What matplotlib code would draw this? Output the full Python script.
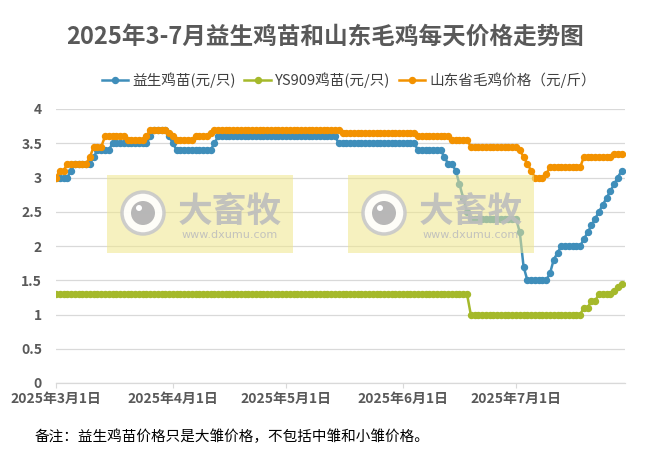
import numpy as np
import pandas as pd
import matplotlib
matplotlib.use("Agg")
import matplotlib.pyplot as plt
import matplotlib.dates as mdates
from matplotlib.patches import Rectangle, Circle
from matplotlib.ticker import FuncFormatter

plt.rcParams['font.family'] = ['Noto Sans CJK SC', 'DejaVu Sans']

# daily prices, 2025-03-01 .. 2025-07-29
start = "2025-03-01"
yisheng = [  # 益生鸡苗(元/只)
    # Mar
    3.0, 3.0, 3.0, 3.0, 3.1, 3.2, 3.2, 3.2, 3.2, 3.2, 3.3, 3.4, 3.4, 3.4, 3.4, 3.5,
    3.5, 3.5, 3.5, 3.5, 3.5, 3.5, 3.5, 3.5, 3.5, 3.6, 3.7, 3.7, 3.7, 3.7, 3.6,
    # Apr
    3.5, 3.4, 3.4, 3.4, 3.4, 3.4, 3.4, 3.4, 3.4, 3.4, 3.4, 3.5, 3.6, 3.6, 3.6,
    3.6, 3.6, 3.6, 3.6, 3.6, 3.6, 3.6, 3.6, 3.6, 3.6, 3.6, 3.6, 3.6, 3.6, 3.6,
    # May
    3.6, 3.6, 3.6, 3.6, 3.6, 3.6, 3.6, 3.6, 3.6, 3.6, 3.6, 3.6, 3.6, 3.6, 3.5, 3.5,
    3.5, 3.5, 3.5, 3.5, 3.5, 3.5, 3.5, 3.5, 3.5, 3.5, 3.5, 3.5, 3.5, 3.5, 3.5,
    # Jun
    3.5, 3.5, 3.5, 3.5, 3.4, 3.4, 3.4, 3.4, 3.4, 3.4, 3.4, 3.3, 3.2, 3.2, 3.1,
    2.9, 2.7, 2.5, 2.4, 2.4, 2.4, 2.4, 2.4, 2.4, 2.4, 2.4, 2.4, 2.4, 2.4, 2.4,
    # Jul
    2.4, 2.2, 1.7, 1.5, 1.5, 1.5, 1.5, 1.5, 1.5, 1.6, 1.8, 1.9, 2.0, 2.0, 2.0,
    2.0, 2.0, 2.0, 2.1, 2.2, 2.3, 2.4, 2.5, 2.6, 2.7, 2.8, 2.9, 3.0, 3.1,
]
ys909 = [  # YS909鸡苗(元/只)
    # Mar
    1.3, 1.3, 1.3, 1.3, 1.3, 1.3, 1.3, 1.3, 1.3, 1.3, 1.3, 1.3, 1.3, 1.3, 1.3, 1.3,
    1.3, 1.3, 1.3, 1.3, 1.3, 1.3, 1.3, 1.3, 1.3, 1.3, 1.3, 1.3, 1.3, 1.3, 1.3,
    # Apr
    1.3, 1.3, 1.3, 1.3, 1.3, 1.3, 1.3, 1.3, 1.3, 1.3, 1.3, 1.3, 1.3, 1.3, 1.3,
    1.3, 1.3, 1.3, 1.3, 1.3, 1.3, 1.3, 1.3, 1.3, 1.3, 1.3, 1.3, 1.3, 1.3, 1.3,
    # May
    1.3, 1.3, 1.3, 1.3, 1.3, 1.3, 1.3, 1.3, 1.3, 1.3, 1.3, 1.3, 1.3, 1.3, 1.3, 1.3,
    1.3, 1.3, 1.3, 1.3, 1.3, 1.3, 1.3, 1.3, 1.3, 1.3, 1.3, 1.3, 1.3, 1.3, 1.3,
    # Jun
    1.3, 1.3, 1.3, 1.3, 1.3, 1.3, 1.3, 1.3, 1.3, 1.3, 1.3, 1.3, 1.3, 1.3, 1.3,
    1.3, 1.3, 1.3, 1.0, 1.0, 1.0, 1.0, 1.0, 1.0, 1.0, 1.0, 1.0, 1.0, 1.0, 1.0,
    # Jul
    1.0, 1.0, 1.0, 1.0, 1.0, 1.0, 1.0, 1.0, 1.0, 1.0, 1.0, 1.0, 1.0, 1.0, 1.0,
    1.0, 1.0, 1.0, 1.1, 1.1, 1.2, 1.2, 1.3, 1.3, 1.3, 1.3, 1.35, 1.4, 1.45,
]
maoji = [  # 山东省毛鸡价格（元/斤）
    # Mar
    3.0, 3.1, 3.1, 3.2, 3.2, 3.2, 3.2, 3.2, 3.2, 3.3, 3.45, 3.45, 3.45, 3.6, 3.6, 3.6,
    3.6, 3.6, 3.6, 3.55, 3.55, 3.55, 3.55, 3.55, 3.6, 3.7, 3.7, 3.7, 3.7, 3.7, 3.65,
    # Apr
    3.6, 3.55, 3.55, 3.55, 3.55, 3.55, 3.6, 3.6, 3.6, 3.6, 3.65, 3.7, 3.7, 3.7, 3.7,
    3.7, 3.7, 3.7, 3.7, 3.7, 3.7, 3.7, 3.7, 3.7, 3.7, 3.7, 3.7, 3.7, 3.7, 3.7,
    # May
    3.7, 3.7, 3.7, 3.7, 3.7, 3.7, 3.7, 3.7, 3.7, 3.7, 3.7, 3.7, 3.7, 3.7, 3.7, 3.65,
    3.65, 3.65, 3.65, 3.65, 3.65, 3.65, 3.65, 3.65, 3.65, 3.65, 3.65, 3.65, 3.65, 3.65, 3.65,
    # Jun
    3.65, 3.65, 3.65, 3.65, 3.6, 3.6, 3.6, 3.6, 3.6, 3.6, 3.6, 3.6, 3.6, 3.55,
    3.55, 3.55, 3.55, 3.55, 3.45, 3.45, 3.45, 3.45, 3.45, 3.45, 3.45, 3.45, 3.45, 3.45, 3.45, 3.45,
    # Jul
    3.45, 3.4, 3.3, 3.2, 3.1, 3.0, 3.0, 3.0, 3.05, 3.15, 3.15, 3.15, 3.15, 3.15, 3.15,
    3.15, 3.15, 3.15, 3.3, 3.3, 3.3, 3.3, 3.3, 3.3, 3.3, 3.3, 3.35, 3.35, 3.35,
]
series_names = ["益生鸡苗(元/只)", "YS909鸡苗(元/只)", "山东省毛鸡价格（元/斤）"]
series_colors = ["#3F8EBA", "#A5B92B", "#F39200"]
tick_dates = ["2025-03-01", "2025-04-01", "2025-05-01", "2025-06-01", "2025-07-01"]
title = "2025年3-7月益生鸡苗和山东毛鸡每天价格走势图"
note = "备注：益生鸡苗价格只是大雏价格，不包括中雏和小雏价格。"

W, H = 656, 463
fig = plt.figure(figsize=(W / 100, H / 100), dpi=100)
ax = fig.add_axes([56 / W, 1 - 383 / H, (625 - 56) / W, (383 - 109) / H])

dates = pd.date_range(start, periods=len(yisheng), freq="D")
for vals, name, c in zip([yisheng, ys909, maoji], series_names, series_colors):
    ax.plot(dates, vals, color=c, lw=1.8, marker="o", ms=4.3, mec=c, mfc=c, label=name, zorder=3)

d0 = mdates.date2num(dates[0])
ax.set_xlim(d0, d0 + 150.9)
ax.set_ylim(0, 4)
ax.set_yticks(np.arange(0, 4.01, 0.5))
ax.yaxis.set_major_formatter(FuncFormatter(lambda v, p: f"{v:g}"))
ticks = pd.to_datetime(tick_dates)
ax.set_xticks(mdates.date2num(ticks))
ax.set_xticklabels([f"{t.year}年{t.month}月{t.day}日" for t in ticks])

ax.grid(axis="y", color="#D9D9D9", lw=0.9, zorder=0)
for s in ["top", "right", "left"]:
    ax.spines[s].set_visible(False)
ax.spines["bottom"].set_color("#D9D9D9")
ax.spines["bottom"].set_linewidth(0.9)
ax.tick_params(axis="y", length=0, pad=10, labelsize=10, labelcolor="#595959")
ax.tick_params(axis="x", length=3.5, color="#D9D9D9", pad=3, labelsize=10, labelcolor="#595959")
for lab in ax.get_xticklabels() + ax.get_yticklabels():
    lab.set_fontweight("bold")

fig.text(0.496, 1 - 37 / H, title, ha="center", va="center", fontsize=17,
         fontweight="bold", color="#595959")
fig.legend(loc="center", bbox_to_anchor=(349 / W, 1 - 80 / H), ncol=3, frameon=False,
           fontsize=10.5, handlelength=1.8, handletextpad=0.3, columnspacing=0.6,
           labelcolor="#404040")
fig.text(35 / W, 1 - 437 / H, note, ha="left", va="center", fontsize=10.5, color="black")


# watermark boxes (drawn over the lines, semi transparent)
def px(x, y):
    return x / 100, (H - y) / 100


for bx in (107, 348):
    fig.add_artist(Rectangle(px(bx, 253), 186 / 100, 78 / 100, transform=fig.dpi_scale_trans,
                             facecolor="#F0E68C", alpha=0.55, edgecolor="none", zorder=5))
    cx, cy = bx + 36, 213
    fig.add_artist(Circle(px(cx, cy), 21 / 100, transform=fig.dpi_scale_trans,
                          facecolor="white", edgecolor="#C8C8C8", lw=2.5, alpha=0.9, zorder=6))
    fig.add_artist(Circle(px(cx, cy), 12 / 100, transform=fig.dpi_scale_trans,
                          facecolor="#B4B4B4", edgecolor="none", alpha=0.95, zorder=7))
    fig.add_artist(Circle(px(cx - 4, cy - 5), 3 / 100, transform=fig.dpi_scale_trans,
                          facecolor="white", edgecolor="none", zorder=8))
    fig.text((bx + 123) / W, 1 - 211 / H, "大畜牧", ha="center", va="center", fontsize=25,
             fontweight="bold", color="#BDBDBD", alpha=0.9, zorder=7)
    fig.text((bx + 123) / W, 1 - 235 / H, "www.dxumu.com", ha="center", va="center",
             fontsize=8, color="#BDBDBD", alpha=0.9, zorder=7, family="DejaVu Sans")

fig.savefig("out.png", dpi=100)
